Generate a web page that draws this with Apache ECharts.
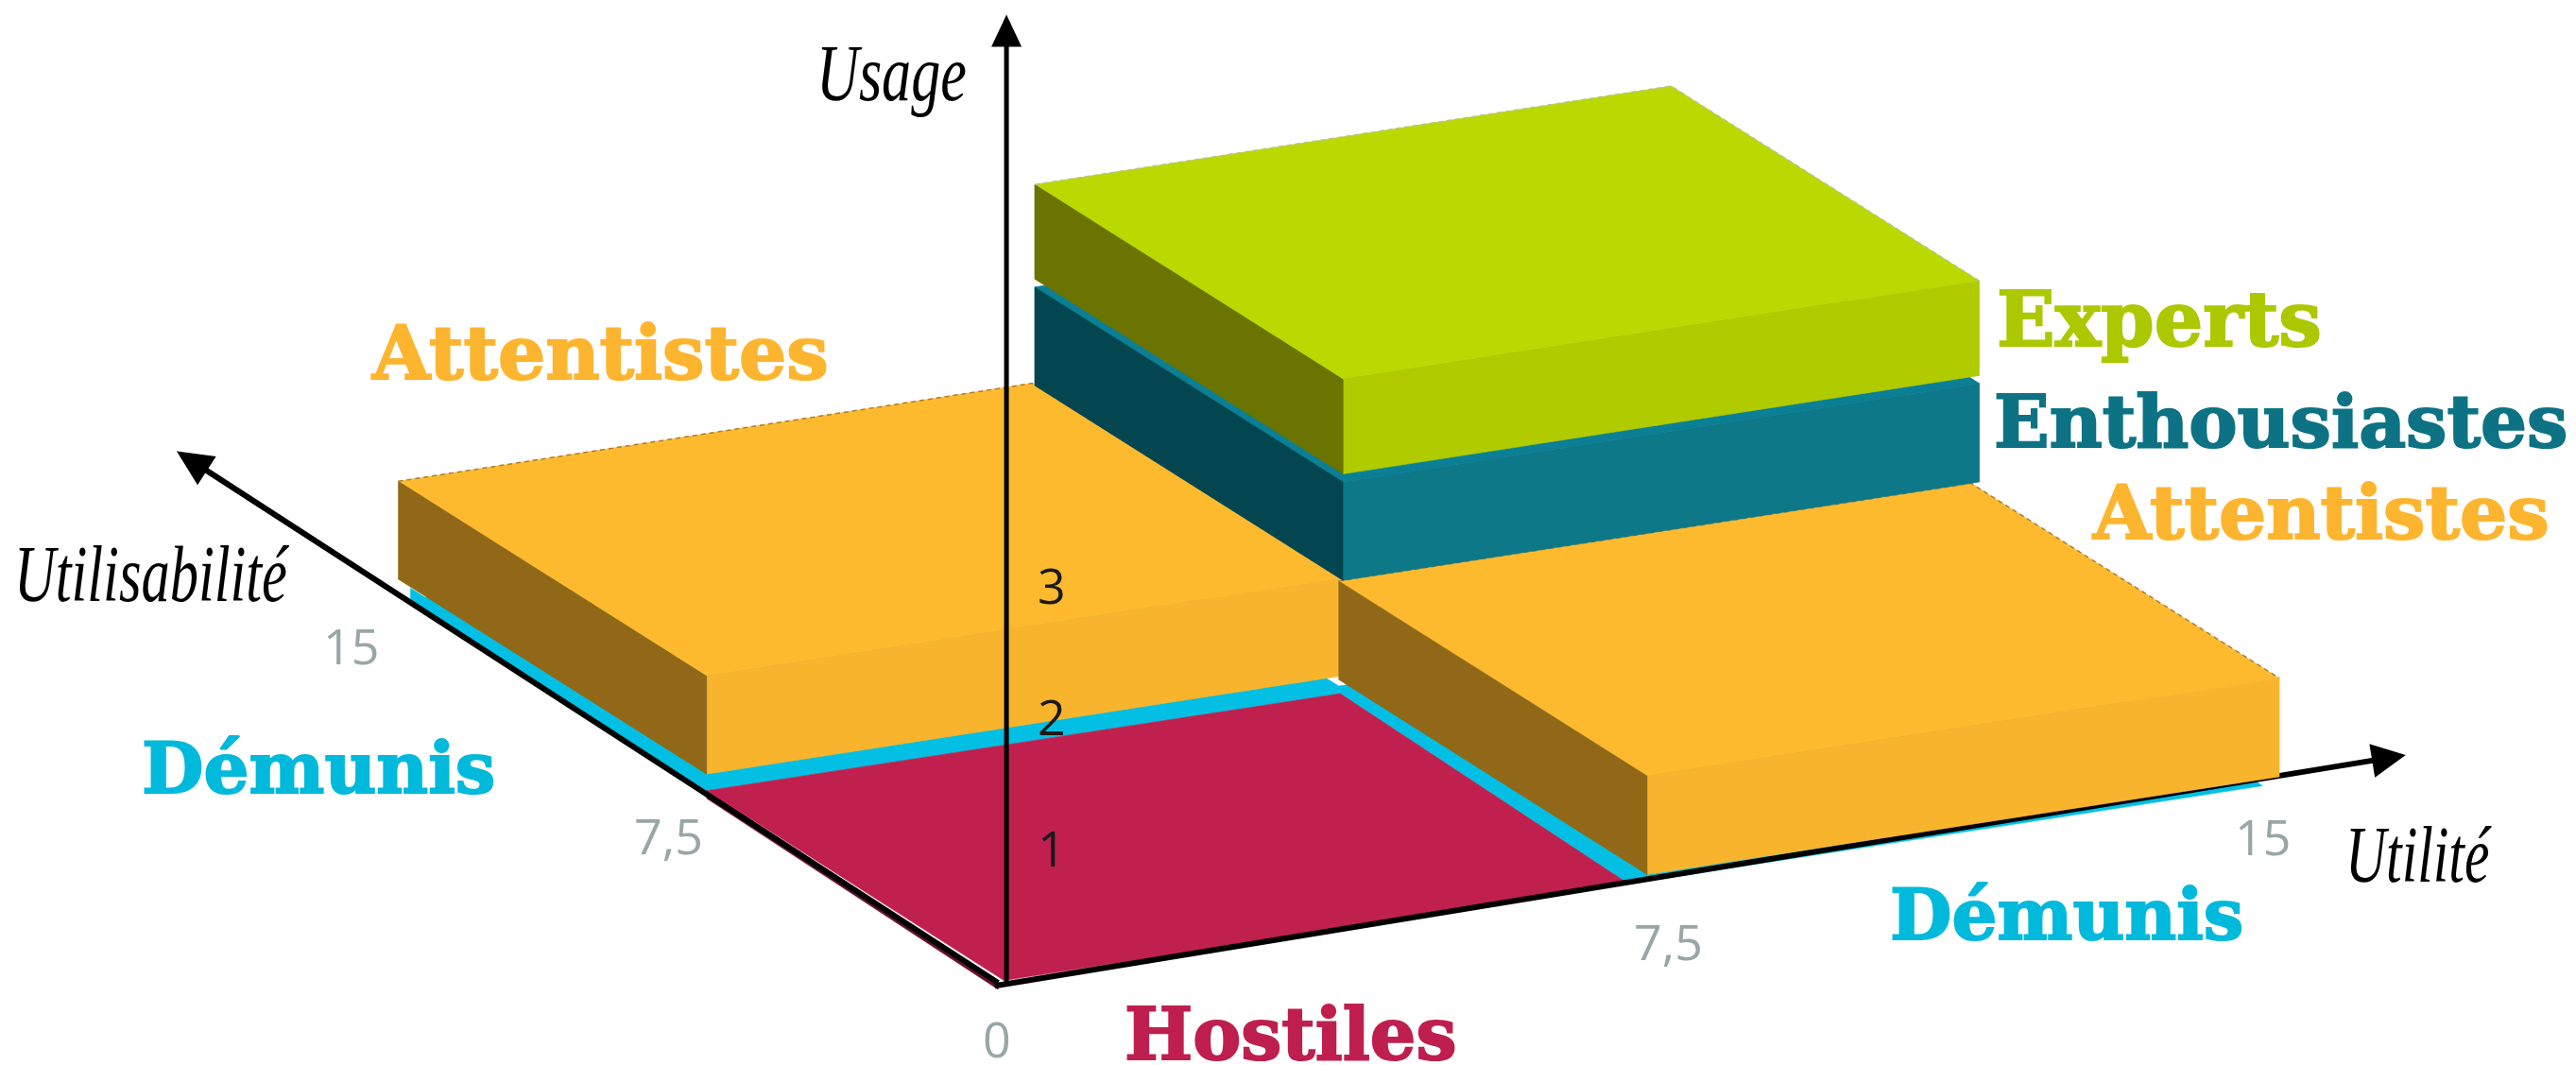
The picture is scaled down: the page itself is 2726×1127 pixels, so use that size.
<!DOCTYPE html>
<html><head><meta charset="utf-8">
<style>html,body{margin:0;padding:0;background:#fff}#c{width:2726px;height:1127px}</style>
<script src="https://cdn.jsdelivr.net/npm/echarts@6/dist/echarts.min.js"></script>
</head><body><div id="c"></div>
<script>
// ---- data: [utilité from, to, utilisabilité from, to, usage from, to]
const attentistesLeft  = [0, 7.52, 7.5, 15, 0.105, 0.85];
const attentistesRight = [7.5, 15, 0, 7.5, 0.08, 0.83];
const enthousiastes    = [7.55, 15.1, 7.5, 15, 0.83, 1.58];
const experts          = [7.55, 15.1, 7.5, 15, 1.64, 2.36];
// flat floor outlines: [utilité, utilisabilité]
const demunisFloor = [[-0.1,14.6],[-0.1,7.29],[7.4,7.26],[7.28,0],[14.8,0],[15,7.5],[7.5,7.5],[7.5,14.6]];
const demunisRise = [[-0.05,14.6],[-0.02,7.29]];
const hostilesFloor = [[-0.13,0],[7.28,0],[7.4,7.26],[-0.1,7.29]];
const floorLevel = 0.03;
const floorThickness = 0.06;
const riseLevel = 0.12;
// ticks
const utiliteTicks = ['0','7,5','15'];
const utilisabiliteTicks = ['7,5','15'];
const usageTicks = ['1','2','3'];
const usageTickValues = [1,2,3];
// axes extents [u,v,z]
const axisU = [[-0.24,0,0],[16.5,0,0.095]];
const axisV = [[-0.2,0,0.02],[-0.24,19.9,0.134]];
const axisZ = [[-0.1,0,0],[-0.1,0,7.38]];

// ---- styles & layout
const C = {
  att:{top:'#FEBA2F',front:'#F8B42D',side:'#906818',edge:'#A5803A'},
  ent:{top:'#0A7F96',front:'#0D7887',side:'#04464F',edge:null},
  exp:{top:'#BAD900',front:'#B0CB00',side:'#6B7400',edge:'#B9BFA0'},
  dem:'#02BFE3', hos:'#C0204E', hosDark:'#6A0F2E'
};
const O=[1074,1040], EU=[89.2,-13.8], EV=[-43.5,-27.5], EZ=139;
const P=(u,v,z)=>[O[0]+EU[0]*u+EV[0]*v, O[1]+EU[1]*u+EV[1]*v-EZ*z];
const slab=s=>'bold '+s+'px "DejaVu Serif"', tickF='52px "Open Sans"', script='italic 84px "Liberation Serif"';
const texts=[
 {t:'Attentistes',x:394,y:380,f:slab(79),c:'#FDB52F',w:1},
 {t:'Experts',x:2113,y:345,f:slab(81),c:'#ACC800',w:1},
 {t:'Enthousiastes',x:2110,y:453,f:slab(77),c:'#0D7384',w:1},
 {t:'Attentistes',x:2215,y:549,f:slab(79),c:'#FDB52F',w:1},
 {t:'Démunis',x:150,y:819,f:slab(75.5),c:'#00B9DB',w:1},
 {t:'Démunis',x:2000,y:974,f:slab(75.5),c:'#00B9DB',w:1},
 {t:'Hostiles',x:1190,y:1101,f:slab(76.5),c:'#BE1F4E',w:1},
 {t:utiliteTicks[0],x:1040,y:1104,f:tickF,c:'#98A6A6'},
 {t:utiliteTicks[1],x:1729,y:1001,f:tickF,c:'#98A6A6'},
 {t:utiliteTicks[2],x:2365,y:890,f:tickF,c:'#98A6A6'},
 {t:utilisabiliteTicks[0],x:671,y:889,f:tickF,c:'#98A6A6'},
 {t:utilisabiliteTicks[1],x:342,y:688,f:tickF,c:'#98A6A6'},
 {t:'Usage',x:864,y:84,f:script,c:'#000',sx:0.74},
 {t:'Utilisabilité',x:15,y:614,f:script,c:'#000',sx:0.72},
 {t:'Utilité',x:2482,y:911,f:script,c:'#000',sx:0.71}
];
const usageTickX = 1098;

const chart=echarts.init(document.getElementById('c'),null,{renderer:'canvas',width:2726,height:1127});
function poly(api,pts,fill){
  return {type:'polygon',shape:{points:pts.map(p=>api.coord(p))},style:{fill:fill,stroke:fill,lineWidth:0.6},silent:true};
}
function boxSeries(name,row,col){
  return {type:'custom',name:name,coordinateSystem:'cartesian2d',clip:false,silent:true,animation:false,
    data:[row],
    renderItem:(p,api)=>{
      const [u0,u1,v0,v1,z0,z1]=[0,1,2,3,4,5].map(i=>api.value(i));
      const kids=[
        poly(api,[P(u0,v0,z1),P(u1,v0,z1),P(u1,v1,z1),P(u0,v1,z1)],col.top),
        poly(api,[P(u0,v0,z0),P(u1,v0,z0),P(u1,v0,z1),P(u0,v0,z1)],col.front),
        poly(api,[P(u0,v0,z0),P(u0,v1,z0),P(u0,v1,z1),P(u0,v0,z1)],col.side)
      ];
      if(col.edge){
        kids.push({type:'polyline',silent:true,shape:{points:[P(u0,v1,z1),P(u1,v1,z1),P(u1,v0,z1)].map(q=>api.coord(q))},
          style:{stroke:col.edge,lineWidth:1.5,lineDash:[5,4],fill:null}});
      }
      return {type:'group',children:kids};
    }};
}
function arrowSeries(axis,width,len,head){
  return {type:'custom',coordinateSystem:'cartesian2d',clip:false,silent:true,animation:false,
    data:[axis[0].slice(0,2)],
    renderItem:(p,api)=>{
      const a=api.coord(P(...axis[0])), b=api.coord(P(...axis[1]));
      const dx=b[0]-a[0],dy=b[1]-a[1],L=Math.hypot(dx,dy),ux=dx/L,uy=dy/L;
      const bx=b[0]-ux*len,by=b[1]-uy*len;
      return {type:'group',children:[
        {type:'line',shape:{x1:a[0],y1:a[1],x2:b[0]-ux*len*0.7,y2:b[1]-uy*len*0.7},style:{stroke:'#000',lineWidth:width},silent:true},
        {type:'polygon',shape:{points:[b,[bx-uy*head/2,by+ux*head/2],[bx+uy*head/2,by-ux*head/2]]},style:{fill:'#000'},silent:true}
      ]};
    }};
}
const series=[
 {type:'custom',name:'Démunis',coordinateSystem:'cartesian2d',clip:false,silent:true,animation:false,data:[demunisFloor[0]],
  renderItem:(p,api)=>({type:'group',children:[
    poly(api,demunisFloor.map(q=>P(q[0],q[1],floorLevel)),C.dem),
    poly(api,[P(demunisRise[0][0],demunisRise[0][1],floorLevel),P(demunisRise[1][0],demunisRise[1][1],floorLevel),
              P(demunisRise[1][0],demunisRise[1][1],riseLevel),P(demunisRise[0][0],demunisRise[0][1],riseLevel)],C.dem)
  ]})},
 {type:'custom',name:'Hostiles',coordinateSystem:'cartesian2d',clip:false,silent:true,animation:false,data:[hostilesFloor[0]],
  renderItem:(p,api)=>({type:'group',children:[
    poly(api,[P(-0.2,0,floorLevel),P(hostilesFloor[3][0],hostilesFloor[3][1],floorLevel),
              P(hostilesFloor[3][0],hostilesFloor[3][1],floorLevel-floorThickness),P(-0.2,0,floorLevel-floorThickness)],C.hosDark),
    poly(api,hostilesFloor.map(q=>P(q[0],q[1],floorLevel)),C.hos)
  ]})},
 arrowSeries(axisU,6,36,36),
 arrowSeries(axisV,6,38,36),
 boxSeries('Attentistes',attentistesLeft,C.att),
 boxSeries('Attentistes',attentistesRight,C.att),
 arrowSeries(axisZ,5,34,32),
 boxSeries('Enthousiastes',enthousiastes,C.ent),
 boxSeries('Experts',experts,C.exp),
 {type:'custom',name:'usage ticks',coordinateSystem:'cartesian2d',clip:false,silent:true,animation:false,
  data:usageTickValues.map(z=>[usageTickX,z]),
  renderItem:(p,api)=>{
    const pt=api.coord([api.value(0),P(0,0,api.value(1))[1]+1]);
    return {type:'text',silent:true,style:{text:usageTicks[p.dataIndex],x:pt[0],y:pt[1],font:tickF,fill:'#1a1a1a',textAlign:'left',verticalAlign:'middle'}};
  }},
 {type:'custom',name:'labels',coordinateSystem:'cartesian2d',clip:false,silent:true,animation:false,
  data:texts.map(t=>[t.x,t.y]),
  renderItem:(p,api)=>{
    const t=texts[p.dataIndex],pt=api.coord([api.value(0),api.value(1)]);
    return {type:'text',silent:true,x:pt[0],y:pt[1],scaleX:t.sx||1,scaleY:1,style:{text:t.t,x:0,y:0,font:t.f,fill:t.c,stroke:t.w?t.c:null,lineWidth:t.w?2:0,textAlign:'left',verticalAlign:'middle'}};
  }}
];
chart.setOption({animation:false,backgroundColor:'#fff',
 grid:{left:0,right:0,top:0,bottom:0,containLabel:false},
 xAxis:{type:'value',min:0,max:2726,show:false},
 yAxis:{type:'value',min:0,max:1127,inverse:true,show:false},
 tooltip:{show:false},
 series:series});
</script></body></html>
